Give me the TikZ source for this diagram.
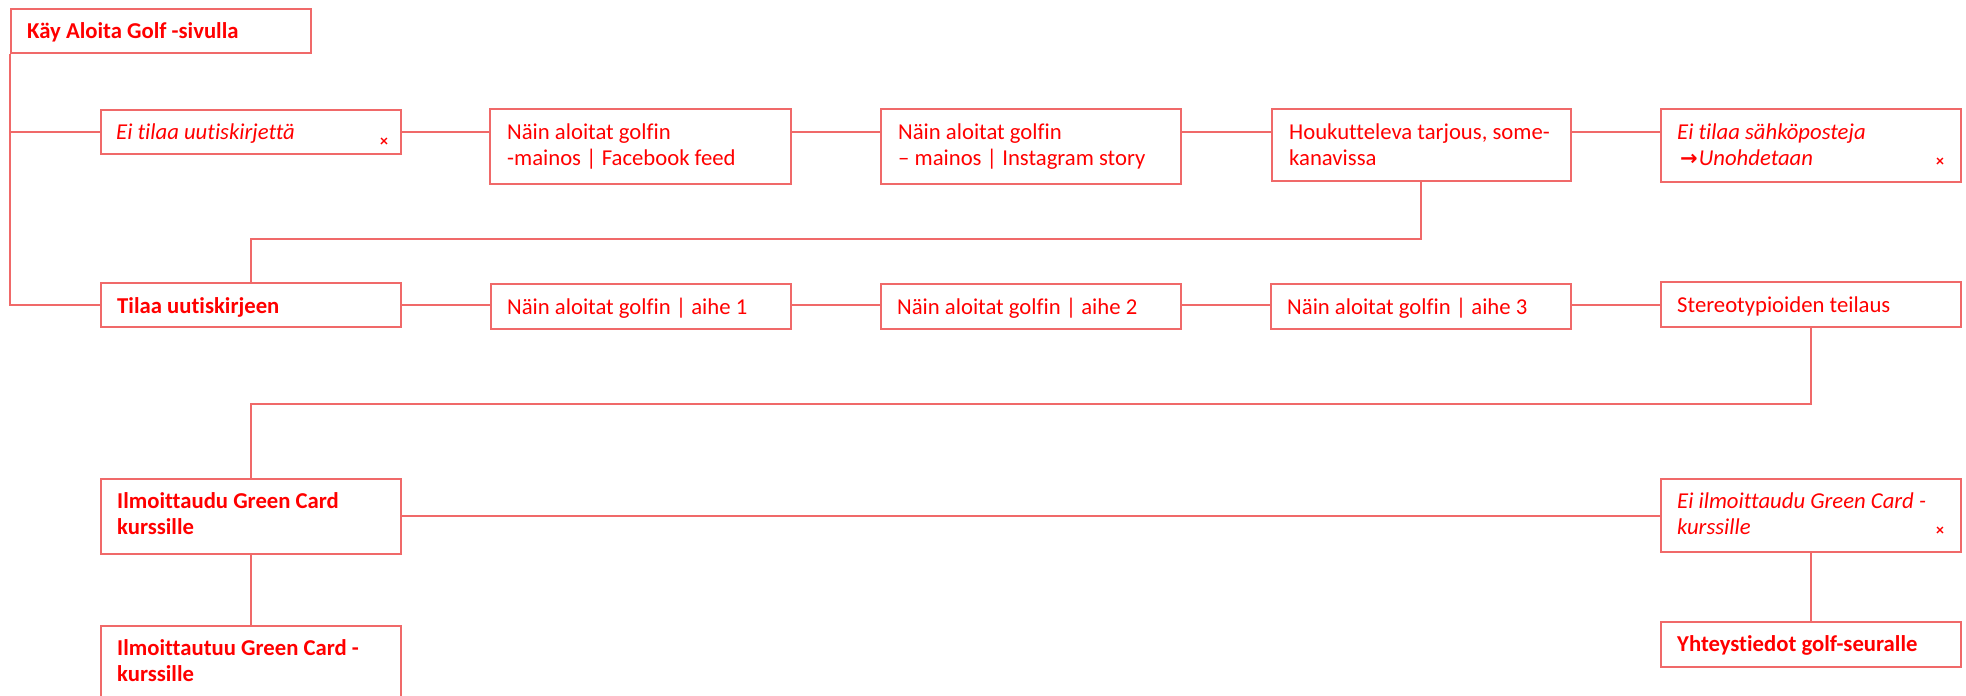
\documentclass[tikz,border=0pt]{standalone}
\usepackage{fontspec}
\setmainfont{Carlito}[Ligatures=NoCommon]
\newfontfamily\arrowfont{DejaVu Sans}
\definecolor{txt}{RGB}{255,0,0}
\definecolor{ln}{RGB}{240,105,105}
\newcommand\boxtext[1]{\parbox[t]{283pt}{\raggedright #1}}
\begin{document}
\begin{tikzpicture}[x=1pt,y=-1pt,
  box/.style={draw=ln, line width=1.5pt, inner sep=0pt, anchor=north west},
  lbl/.style={anchor=base west, inner sep=0pt, text=txt, font=\fontsize{22.7}{26.8}\selectfont},
  cross/.style={text=txt, inner sep=0pt, font=\fontsize{16}{16}\selectfont\bfseries},
  link/.style={draw=ln, line width=1.6pt}]
\useasboundingbox (0,0) rectangle (1966,696);
\fill[white] (0,0) rectangle (1966,696);
\clip (0,0) rectangle (1966,696);

% row 1
\node[box, minimum width=300pt, minimum height=44pt] (b1) at (10,8) {};
\node[box, minimum width=300pt, minimum height=44pt] (b2) at (100,109) {};
\node[box, minimum width=301pt, minimum height=75pt] (b3) at (489,108) {};
\node[box, minimum width=300pt, minimum height=75pt] (b4) at (880,108) {};
\node[box, minimum width=299pt, minimum height=72pt] (b5) at (1271,108) {};
\node[box, minimum width=300pt, minimum height=73pt] (b6) at (1660,108) {};
% row 2
\node[box, minimum width=300pt, minimum height=44pt] (r1) at (100,282) {};
\node[box, minimum width=300pt, minimum height=45pt] (r2) at (490,283) {};
\node[box, minimum width=300pt, minimum height=45pt] (r3) at (880,283) {};
\node[box, minimum width=300pt, minimum height=45pt] (r4) at (1270,283) {};
\node[box, minimum width=300pt, minimum height=45pt] (r5) at (1660,281) {};
% row 3
\node[box, minimum width=300pt, minimum height=75pt] (c1) at (100,478) {};
\node[box, minimum width=300pt, minimum height=73pt] (c2) at (1660,478) {};
% row 4
\node[box, minimum width=300pt, minimum height=140pt] (d1) at (100,625) {};
\node[box, minimum width=300pt, minimum height=45pt] (d2) at (1660,621) {};

% texts
\node[lbl] (t1) at ([xshift=17pt,yshift=-30pt]b1.north west) {\boxtext{\bfseries Käy Aloita Golf -sivulla}};
\node[lbl] (t2) at ([xshift=16pt,yshift=-30pt]b2.north west) {\boxtext{\itshape Ei tilaa uutiskirjettä}};
\node[lbl] (t3) at ([xshift=18pt,yshift=-31pt]b3.north west) {\boxtext{Näin aloitat golfin\\-mainos | Facebook feed}};
\node[lbl] (t4) at ([xshift=18pt,yshift=-31pt]b4.north west) {\boxtext{Näin aloitat golfin\\– mainos | Instagram story}};
\node[lbl] (t5) at ([xshift=18pt,yshift=-31pt]b5.north west) {\boxtext{Houkutteleva tarjous, some-\\kanavissa}};
\node[lbl] (t6) at ([xshift=17pt,yshift=-31pt]b6.north west) {\boxtext{\itshape Ei tilaa sähköposteja\\\hspace*{3pt}{\upshape\arrowfont\bfseries\fontsize{21}{26.8}\selectfont →}\hspace{1pt}Unohdetaan}};

\node[lbl] (u1) at ([xshift=17pt,yshift=-31pt]r1.north west) {\boxtext{\bfseries Tilaa uutiskirjeen}};
\node[lbl] (u2) at ([xshift=17pt,yshift=-31pt]r2.north west) {\boxtext{Näin aloitat golfin | aihe 1}};
\node[lbl] (u3) at ([xshift=17pt,yshift=-31pt]r3.north west) {\boxtext{Näin aloitat golfin | aihe 2}};
\node[lbl] (u4) at ([xshift=17pt,yshift=-31pt]r4.north west) {\boxtext{Näin aloitat golfin | aihe 3}};
\node[lbl] (u5) at ([xshift=17pt,yshift=-31pt]r5.north west) {\boxtext{Stereotypioiden teilaus}};

\node[lbl] (v1) at ([xshift=17pt,yshift=-30pt]c1.north west) {\boxtext{\bfseries Ilmoittaudu Green Card\\kurssille}};
\node[lbl] (v2) at ([xshift=17pt,yshift=-30pt]c2.north west) {\boxtext{\itshape Ei ilmoittaudu Green Card -\\kurssille}};

\node[lbl] (w1) at ([xshift=17pt,yshift=-30pt]d1.north west) {\boxtext{\bfseries Ilmoittautuu Green Card -\\kurssille}};
\node[lbl] (w2) at ([xshift=17pt,yshift=-30pt]d2.north west) {\boxtext{\bfseries Yhteystiedot golf-seuralle}};

% crosses
\node[cross] (x1) at (384,142) {×};
\node[cross] (x2) at (1940,162) {×};
\node[cross] (x3) at (1940,531) {×};

% connectors
\draw[link] (b1.south west) |- (b2.west);
\draw[link] (b1.south west) |- (r1.west);
\draw[link] (b2.east) -- (b2.east -| b3.west);
\draw[link] (b2.east -| b3.east) -- (b2.east -| b4.west);
\draw[link] (b2.east -| b4.east) -- (b2.east -| b5.west);
\draw[link] (b2.east -| b5.east) -- (b2.east -| b6.west);
\draw[link] (b5.south) |- ([yshift=43pt]r1.north) -- (r1.north);
\draw[link] (r1.east) -- (r1.east -| r2.west);
\draw[link] (r1.east -| r2.east) -- (r1.east -| r3.west);
\draw[link] (r1.east -| r3.east) -- (r1.east -| r4.west);
\draw[link] (r1.east -| r4.east) -- (r1.east -| r5.west);
\draw[link] (r5.south) |- ([yshift=74pt]c1.north) -- (c1.north);
\draw[link] (c1.east) -- (c1.east -| c2.west);
\draw[link] (c1.south) -- (d1.north);
\draw[link] (c2.south) -- (d2.north);
\end{tikzpicture}
\end{document}
